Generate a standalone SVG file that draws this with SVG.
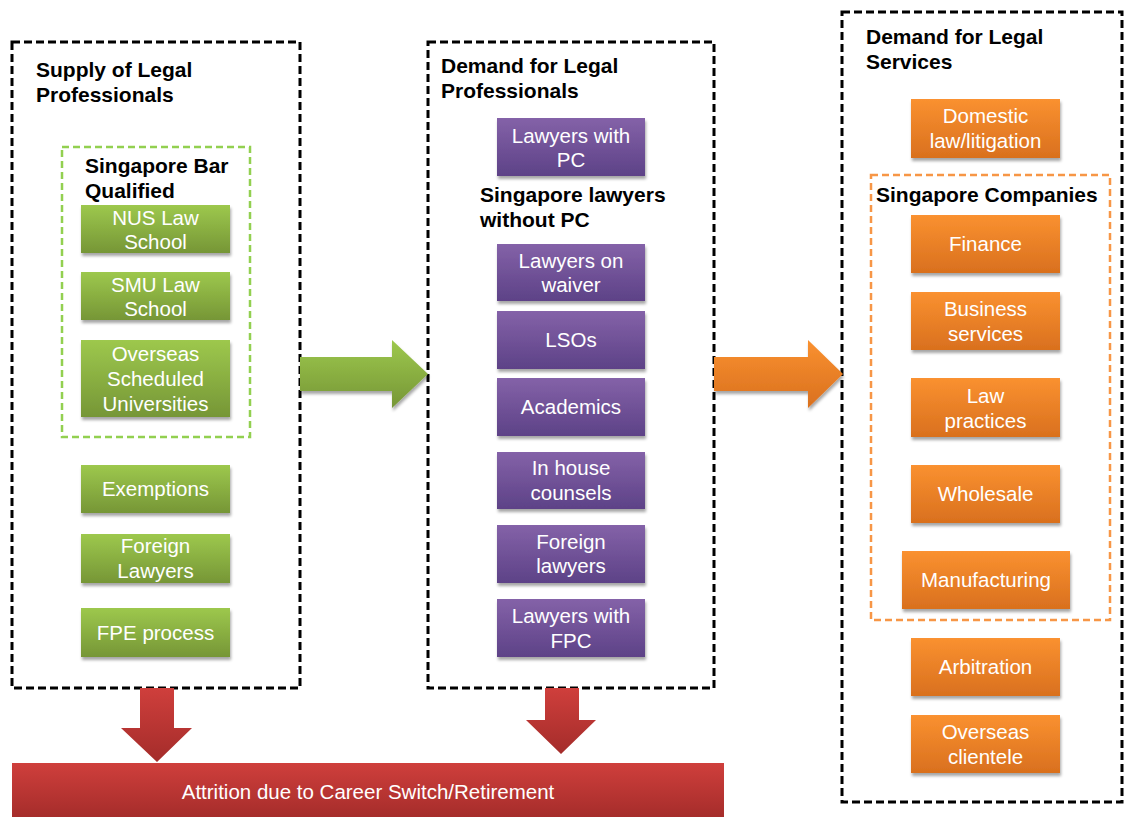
<svg xmlns="http://www.w3.org/2000/svg" width="1125" height="817" viewBox="0 0 1125 817">
<defs>
<linearGradient id="gG" x1="0" y1="0" x2="0" y2="1"><stop offset="0" stop-color="#9dc84d"/><stop offset="1" stop-color="#769636"/></linearGradient>
<linearGradient id="gP" x1="0" y1="0" x2="0" y2="1"><stop offset="0" stop-color="#8462a8"/><stop offset="1" stop-color="#5d4287"/></linearGradient>
<linearGradient id="gO" x1="0" y1="0" x2="0" y2="1"><stop offset="0" stop-color="#fa9130"/><stop offset="1" stop-color="#d9701e"/></linearGradient>
<linearGradient id="gR" x1="0" y1="0" x2="0" y2="1"><stop offset="0" stop-color="#cf3f3c"/><stop offset="1" stop-color="#a42c2a"/></linearGradient>
<filter id="sh" x="-10%" y="-10%" width="130%" height="140%"><feDropShadow dx="1" dy="3" stdDeviation="1.5" flood-color="#000" flood-opacity="0.35"/></filter>
</defs>
<style>
.frame{fill:none;stroke:#000;stroke-width:3;stroke-dasharray:8 4}
.gframe{fill:none;stroke:#92d050;stroke-width:2.5;stroke-dasharray:7 4}
.oframe{fill:none;stroke:#f79646;stroke-width:2.5;stroke-dasharray:7 4}
.title{font-family:"Liberation Sans",Arial,sans-serif;font-weight:bold;font-size:21px;fill:#000}
.lbl{font-family:"Liberation Sans",Arial,sans-serif;font-size:20.5px;fill:#fff;text-anchor:middle}
.g{fill:url(#gG);filter:url(#sh)}
.p{fill:url(#gP);filter:url(#sh)}
.o{fill:url(#gO);filter:url(#sh)}
</style>
<rect width="1125" height="817" fill="#fff"/>

<g id="supply">
<rect class="frame" x="12" y="42" width="288" height="646"/>
<text class="title" x="36" y="77">Supply of Legal</text>
<text class="title" x="36" y="102">Professionals</text>
</g>
<g id="bar-qualified">
<rect class="gframe" x="62" y="147" width="188" height="290"/>
<text class="title" x="85" y="173">Singapore Bar</text>
<text class="title" x="85" y="198">Qualified</text>
</g>
<g id="nus"><rect class="g" x="81" y="205" width="149" height="48"/><text class="lbl" x="155.5" y="225">NUS Law</text><text class="lbl" x="155.5" y="249">School</text></g>
<g id="smu"><rect class="g" x="81" y="272" width="149" height="48"/><text class="lbl" x="155.5" y="292">SMU Law</text><text class="lbl" x="155.5" y="316">School</text></g>
<g id="overseas-uni"><rect class="g" x="81" y="340" width="149" height="77"/><text class="lbl" x="155.5" y="361">Overseas</text><text class="lbl" x="155.5" y="386">Scheduled</text><text class="lbl" x="155.5" y="411">Universities</text></g>
<g id="exemptions"><rect class="g" x="81" y="465" width="149" height="48"/><text class="lbl" x="155.5" y="496">Exemptions</text></g>
<g id="foreign-lawyers-s"><rect class="g" x="81" y="534" width="149" height="49"/><text class="lbl" x="155.5" y="553">Foreign</text><text class="lbl" x="155.5" y="578">Lawyers</text></g>
<g id="fpe"><rect class="g" x="81" y="608" width="149" height="49"/><text class="lbl" x="155.5" y="640">FPE process</text></g>

<g id="demand-prof">
<rect class="frame" x="428" y="42" width="286" height="646"/>
<text class="title" x="441" y="73">Demand for Legal</text>
<text class="title" x="441" y="98">Professionals</text>
<text class="title" x="480" y="202">Singapore lawyers</text>
<text class="title" x="480" y="227">without PC</text>
</g>
<g id="with-pc"><rect class="p" x="497" y="118" width="148" height="58"/><text class="lbl" x="571" y="143">Lawyers with</text><text class="lbl" x="571" y="167">PC</text></g>
<g id="waiver"><rect class="p" x="497" y="244" width="148" height="57"/><text class="lbl" x="571" y="268">Lawyers on</text><text class="lbl" x="571" y="292">waiver</text></g>
<g id="lsos"><rect class="p" x="497" y="311" width="148" height="58"/><text class="lbl" x="571" y="347">LSOs</text></g>
<g id="academics"><rect class="p" x="497" y="378" width="148" height="58"/><text class="lbl" x="571" y="414">Academics</text></g>
<g id="in-house"><rect class="p" x="497" y="452" width="148" height="57"/><text class="lbl" x="571" y="475">In house</text><text class="lbl" x="571" y="500">counsels</text></g>
<g id="foreign-lawyers-d"><rect class="p" x="497" y="525" width="148" height="58"/><text class="lbl" x="571" y="549">Foreign</text><text class="lbl" x="571" y="573">lawyers</text></g>
<g id="with-fpc"><rect class="p" x="497" y="599" width="148" height="58"/><text class="lbl" x="571" y="623">Lawyers with</text><text class="lbl" x="571" y="648">FPC</text></g>

<g id="demand-services">
<rect class="frame" x="842" y="12" width="280" height="790"/>
<text class="title" x="866" y="44">Demand for Legal</text>
<text class="title" x="866" y="69">Services</text>
</g>
<g id="sg-companies">
<rect class="oframe" x="871" y="175" width="239" height="445"/>
<text class="title" x="876" y="202">Singapore Companies</text>
</g>
<g id="domestic"><rect class="o" x="911" y="99" width="149" height="59"/><text class="lbl" x="985.5" y="123">Domestic</text><text class="lbl" x="985.5" y="148">law/litigation</text></g>
<g id="finance"><rect class="o" x="911" y="215" width="149" height="58"/><text class="lbl" x="985.5" y="251">Finance</text></g>
<g id="business"><rect class="o" x="911" y="292" width="149" height="58"/><text class="lbl" x="985.5" y="316">Business</text><text class="lbl" x="985.5" y="341">services</text></g>
<g id="law-practices"><rect class="o" x="911" y="378" width="149" height="59"/><text class="lbl" x="985.5" y="403">Law</text><text class="lbl" x="985.5" y="428">practices</text></g>
<g id="wholesale"><rect class="o" x="911" y="465" width="149" height="58"/><text class="lbl" x="985.5" y="501">Wholesale</text></g>
<g id="manufacturing"><rect class="o" x="902" y="551" width="168" height="58"/><text class="lbl" x="986" y="587">Manufacturing</text></g>
<g id="arbitration"><rect class="o" x="911" y="638" width="149" height="58"/><text class="lbl" x="985.5" y="674">Arbitration</text></g>
<g id="overseas-clientele"><rect class="o" x="911" y="715" width="149" height="58"/><text class="lbl" x="985.5" y="739">Overseas</text><text class="lbl" x="985.5" y="764">clientele</text></g>

<g id="attrition">
<rect x="12" y="763" width="712" height="56" fill="url(#gR)"/>
<text class="lbl" x="368" y="799">Attrition due to Career Switch/Retirement</text>
</g>

<g id="connectors">
<polygon points="300,357 392,357 392,340 428,374 392,408 392,391 300,391" fill="url(#gG)" filter="url(#sh)"/>
<polygon points="714,357 808,357 808,340 843,374 808,408 808,391 714,391" fill="url(#gO)" filter="url(#sh)"/>
<polygon points="140,688 174,688 174,728 192,728 157,762 121,728 140,728" fill="url(#gR)"/>
<polygon points="545,688 579,688 579,720 596,720 561,754 526,720 545,720" fill="url(#gR)"/>
</g>
</svg>
